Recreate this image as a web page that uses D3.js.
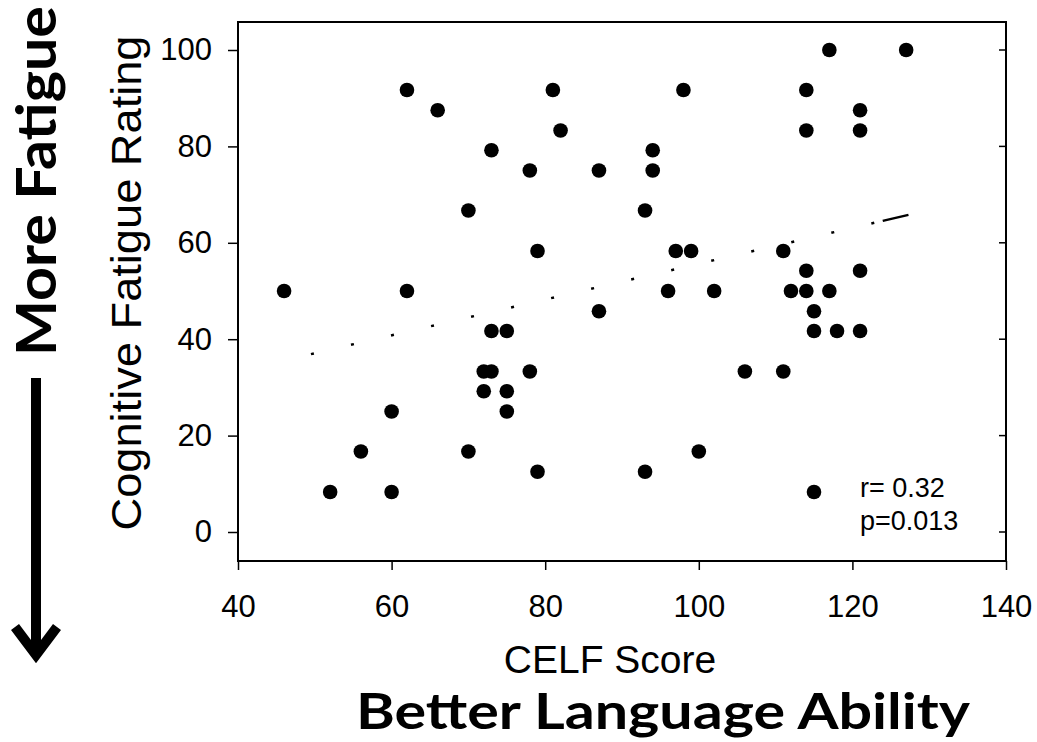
<html>
  <head>
    <style>
      body { margin: 0; background: #fff; }
      text { font-family: "Liberation Sans", Arial, sans-serif; fill: #000; }
      .axis path, .axis line { stroke: #000; }
      .big { font-family: Lato, "Open Sans", sans-serif; font-weight: 700; }
    </style>
  </head>
  <body>
    <script src="https://d3js.org/d3.v7.min.js"></script>
    <script>
    var width = 1037, height = 742;

    // CELF score (x) and cognitive fatigue rating (y)
    var celf = [46, 52, 56, 60, 60, 62, 62, 66, 70, 70, 72, 72, 73, 73, 73, 75, 75, 75, 78, 78,
                79, 79, 81, 82, 87, 87, 93, 93, 94, 94, 96, 97, 98, 99, 100, 102, 106, 111, 111, 112,
                114, 114, 114, 114, 115, 115, 115, 117, 117, 118, 121, 121, 121, 121, 127];
    var fatigue = [50, 8.3, 16.7, 8.3, 25, 91.7, 50, 87.5, 66.7, 16.7, 33.3, 29.2, 79.2, 41.7, 33.3, 41.7, 29.2, 25, 75, 33.3,
                   58.3, 12.5, 91.7, 83.3, 75, 45.8, 66.7, 12.5, 79.2, 75, 50, 58.3, 91.7, 58.3, 16.7, 50, 33.3, 58.3, 33.3, 50,
                   91.7, 83.3, 54.2, 50, 45.8, 41.7, 8.3, 100, 50, 41.7, 87.5, 83.3, 54.2, 41.7, 100];

    // fitted line ends
    var fitX = [49.5, 127.3];
    var fitY = [36.9, 65.8];

    var xTicks = [40, 60, 80, 100, 120, 140];
    var yTicks = [0, 20, 40, 60, 80, 100];
    var stats = ["r= 0.32", "p=0.013"];

    var svg = d3.select("body")
        .append("svg")
        .attr("width", width)
        .attr("height", height);

    svg.append("rect").attr("width", width).attr("height", height).attr("fill", "#fff");

    // plot box edges (don't call it "top", that's window.top)
    var boxL = 238, boxR = 1006, boxT = 22, boxB = 561;

    var x = d3.scaleLinear().domain([40, 140]).range([boxL, boxR]);
    var y = d3.scaleLinear().domain([0, 100]).range([532, 50]);

    // frame
    svg.append("rect")
        .attr("x", boxL).attr("y", boxT)
        .attr("width", boxR - boxL).attr("height", boxB - boxT)
        .attr("fill", "none").attr("stroke", "#000").attr("stroke-width", 2);

    var xAxis = svg.append("g")
        .attr("class", "axis")
        .attr("transform", "translate(0," + boxB + ")")
        .call(d3.axisBottom(x).tickValues(xTicks).tickSize(9).tickPadding(25));
    xAxis.select(".domain").remove();
    xAxis.selectAll("line").attr("stroke-width", 1.5);
    xAxis.selectAll("text").attr("font-size", 31).attr("dy", "0.71em");

    var yAxis = svg.append("g")
        .attr("class", "axis")
        .attr("transform", "translate(" + boxL + ",0)")
        .call(d3.axisLeft(y).tickValues(yTicks).tickSize(10).tickPadding(16));
    yAxis.select(".domain").remove();
    yAxis.selectAll("line").attr("stroke-width", 1.5);
    yAxis.selectAll("text").attr("font-size", 31);

    // inner ticks on the right edge
    svg.append("g")
      .selectAll("line")
      .data(yTicks)
      .enter().append("line")
        .attr("x1", boxR - 7).attr("x2", boxR)
        .attr("y1", function(d){ return y(d); })
        .attr("y2", function(d){ return y(d); })
        .attr("stroke", "#000").attr("stroke-width", 1.5);

    // regression line, dash pattern as in the original
    var dash = [];
    for (var i = 0; i < 14; i++) dash.push(3, 38.1);
    dash.push(3, 8.7, 60);

    svg.append("line")
        .attr("x1", x(fitX[0])).attr("y1", y(fitY[0]))
        .attr("x2", x(fitX[1])).attr("y2", y(fitY[1]))
        .attr("stroke", "#000")
        .attr("stroke-width", 2.5)
        .attr("stroke-dasharray", dash.join(","));

    var pts = celf.map(function(c, i){ return {x: c, y: fatigue[i]}; });

    svg.append("g")
      .selectAll("circle")
      .data(pts)
      .enter().append("circle")
        .attr("cx", function(d){ return x(d.x); })
        .attr("cy", function(d){ return y(d.y); })
        .attr("r", 7.3)
        .attr("fill", "#000");

    svg.append("g")
      .selectAll("text")
      .data(stats)
      .enter().append("text")
        .attr("x", 860)
        .attr("y", function(d, i){ return 497 + i * 33; })
        .attr("font-size", 27)
        .text(function(d){ return d; });

    // axis titles
    svg.append("text")
        .attr("x", 610).attr("y", 673)
        .attr("text-anchor", "middle")
        .attr("font-size", 39)
        .text("CELF Score");

    svg.append("text")
        .attr("transform", "translate(141,283) rotate(-90)")
        .attr("text-anchor", "middle")
        .attr("font-size", 42)
        .attr("textLength", 495)
        .attr("lengthAdjust", "spacingAndGlyphs")
        .text("Cognitive Fatigue Rating");

    // the big bold notes
    svg.append("text")
        .attr("class", "big")
        .attr("x", 663).attr("y", 729)
        .attr("text-anchor", "middle")
        .attr("font-size", 50)
        .attr("textLength", 614)
        .attr("lengthAdjust", "spacingAndGlyphs")
        .text("Better Language Ability");

    svg.append("text")
        .attr("class", "big")
        .attr("transform", "translate(56,181) rotate(-90)")
        .attr("text-anchor", "middle")
        .attr("font-size", 55)
        .attr("textLength", 350)
        .attr("lengthAdjust", "spacingAndGlyphs")
        .text("More Fatigue");

    // down arrow
    svg.append("path")
        .attr("d", "M36,378 L36,655 M15,627 L36,655 L57,627")
        .attr("fill", "none")
        .attr("stroke", "#000")
        .attr("stroke-width", 10)
        .attr("stroke-linejoin", "miter");
    </script>
  </body>
</html>
